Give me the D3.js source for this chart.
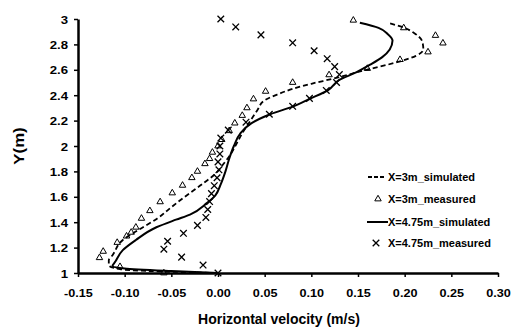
<!DOCTYPE html>
<html>
<head>
<meta charset="utf-8">
<script src="https://cdn.jsdelivr.net/npm/d3@7"></script>
<style>
	body { margin: 0; background: #fff; }
	svg { display: block; font-family: 'Liberation Sans', Arial, sans-serif; font-weight: bold; }
</style>
</head>
<body>
<svg id="chart" width="511" height="329"></svg>
<script>
const xTicks = [-0.15, -0.10, -0.05, 0.00, 0.05, 0.10, 0.15, 0.20, 0.25, 0.30];
const xTickLabels = ['-0.15', '-0.10', '-0.05', '0.00', '0.05', '0.10', '0.15', '0.20', '0.25', '0.30'];
const yTicks = [1, 1.2, 1.4, 1.6, 1.8, 2, 2.2, 2.4, 2.6, 2.8, 3];
const yTickLabels = ['1', '1.2', '1.4', '1.6', '1.8', '2', '2.2', '2.4', '2.6', '2.8', '3'];

const seriesNames = ['X=3m_simulated', 'X=3m_measured', 'X=4.75m_simulated', 'X=4.75m_measured'];

// [velocity, height]
const sim3 = [
	[0.000, 1.000], [-0.060, 1.012], [-0.105, 1.03], [-0.117, 1.06], [-0.117, 1.10], [-0.113, 1.14],
	[-0.102, 1.26], [-0.085, 1.34], [-0.065, 1.43], [-0.048, 1.53], [-0.030, 1.63], [-0.015, 1.71],
	[-0.003, 1.78], [0.006, 1.86], [0.014, 1.94], [0.020, 2.02], [0.026, 2.10], [0.033, 2.18],
	[0.042, 2.28], [0.050, 2.36], [0.065, 2.41], [0.080, 2.45], [0.100, 2.49], [0.123, 2.53],
	[0.159, 2.60], [0.192, 2.66], [0.212, 2.71], [0.220, 2.76], [0.219, 2.82], [0.210, 2.89],
	[0.200, 2.93], [0.182, 2.97]
];

const meas3 = [
	[-0.058, 1.00], [-0.105, 1.05], [-0.127, 1.12], [-0.123, 1.17], [-0.108, 1.24], [-0.098, 1.29],
	[-0.093, 1.32], [-0.088, 1.36], [-0.082, 1.43], [-0.073, 1.49], [-0.062, 1.56], [-0.049, 1.63],
	[-0.038, 1.69], [-0.028, 1.75], [-0.022, 1.80], [-0.014, 1.86], [-0.009, 1.90], [-0.006, 1.95],
	[0.000, 2.00], [0.004, 2.05], [0.012, 2.12], [0.018, 2.18], [0.026, 2.24], [0.031, 2.30],
	[0.038, 2.37], [0.051, 2.43], [0.080, 2.50], [0.119, 2.56], [0.160, 2.61], [0.195, 2.68],
	[0.225, 2.74], [0.241, 2.81], [0.233, 2.87], [0.199, 2.93], [0.145, 2.99]
];

const sim475 = [
	[0.000, 1.000], [-0.050, 1.015], [-0.100, 1.035], [-0.113, 1.055], [-0.110, 1.09], [-0.102, 1.18],
	[-0.088, 1.26], [-0.066, 1.36], [-0.045, 1.42], [-0.030, 1.46], [-0.012, 1.55], [-0.003, 1.61],
	[0.003, 1.70], [0.008, 1.80], [0.012, 1.90], [0.017, 2.00], [0.024, 2.10], [0.036, 2.18],
	[0.056, 2.25], [0.080, 2.31], [0.098, 2.37], [0.118, 2.44], [0.130, 2.52], [0.148, 2.58],
	[0.163, 2.64], [0.176, 2.70], [0.184, 2.76], [0.187, 2.83], [0.182, 2.88], [0.172, 2.93],
	[0.152, 2.97]
];

const meas475 = [
	[0.000, 1.000], [-0.016, 1.0625], [-0.039, 1.125], [-0.058, 1.1875], [-0.054, 1.25], [-0.037, 1.3125],
	[-0.022, 1.375], [-0.013, 1.4375], [-0.011, 1.5], [-0.009, 1.5625], [-0.007, 1.625], [-0.004, 1.6875],
	[-0.001, 1.75], [0.001, 1.8125], [0.000, 1.875], [0.002, 1.9375], [0.002, 2.0], [0.003, 2.0625],
	[0.011, 2.125], [0.030, 2.1875], [0.055, 2.25], [0.080, 2.3125], [0.098, 2.375], [0.116, 2.4375],
	[0.127, 2.5], [0.130, 2.5625], [0.125, 2.625], [0.117, 2.6875], [0.103, 2.75], [0.080, 2.8125],
	[0.046, 2.875], [0.019, 2.9375], [0.003, 3.0]
];

const svg = d3.select('#chart');

const x = d3.scaleLinear().domain([-0.15, 0.30]).range([78, 498]);
const y = d3.scaleLinear().domain([1, 3]).range([273, 19]);

// stretch text a bit wider, the picture is not 1:1
function stretch(sel, sx) {
	sel.attr('transform', function() {
		const tx = +this.getAttribute('data-x');
		const ty = +this.getAttribute('data-y');
		return `translate(${tx},${ty}) scale(${sx},1)`;
	});
}

const line = d3.line()
	.x(d => x(d[0]))
	.y(d => y(d[1]))
	.curve(d3.curveMonotoneY);

const $plot = svg.append('g');

$plot.append('path')
	.datum(sim3)
	.attr('d', line)
	.attr('fill', 'none')
	.attr('stroke', '#000')
	.attr('stroke-width', 1.8)
	.attr('stroke-dasharray', '5,3');

$plot.append('path')
	.datum(sim475)
	.attr('d', line)
	.attr('fill', 'none')
	.attr('stroke', '#000')
	.attr('stroke-width', 2);

const tri = d3.symbol().type(d3.symbolTriangle).size(18);

$plot.selectAll('path.tri')
	.data(meas3)
	.enter()
	.append('path')
	.attr('class', 'tri')
	.attr('d', tri)
	.attr('transform', d => `translate(${x(d[0])},${y(d[1])})`)
	.attr('fill', 'none')
	.attr('stroke', '#000')
	.attr('stroke-width', 1);

const cross = d3.symbol().type(d3.symbolX).size(30);

$plot.selectAll('path.cross')
	.data(meas475)
	.enter()
	.append('path')
	.attr('class', 'cross')
	.attr('d', cross)
	.attr('transform', d => `translate(${x(d[0])},${y(d[1])})`)
	.attr('fill', 'none')
	.attr('stroke', '#000')
	.attr('stroke-width', 1.3);

// axes
const xAxis = svg.append('g')
	.attr('transform', `translate(0,${y(1)})`)
	.call(d3.axisBottom(x).tickValues(xTicks).tickSize(4).tickSizeOuter(0).tickFormat((d, i) => xTickLabels[i]));

const yAxis = svg.append('g')
	.attr('transform', `translate(${x(-0.15)},0)`)
	.call(d3.axisLeft(y).tickValues(yTicks).tickSize(4).tickSizeOuter(0).tickFormat((d, i) => yTickLabels[i]));

[xAxis, yAxis].forEach($a => {
	$a.select('.domain').attr('stroke', '#000').attr('stroke-width', 2.5);
	$a.selectAll('.tick line').attr('stroke', '#000').attr('stroke-width', 1.5);
	$a.selectAll('.tick text')
		.attr('fill', '#000')
		.attr('font-family', "'Liberation Sans', Arial, sans-serif")
		.attr('font-weight', 'bold')
		.attr('font-size', 11);
});

xAxis.selectAll('.tick text')
	.attr('y', 0).attr('dy', 0)
	.attr('data-x', 0).attr('data-y', 24)
	.call(stretch, 1.15);

yAxis.selectAll('.tick text')
	.attr('x', 0).attr('dy', 0)
	.attr('data-x', -10).attr('data-y', 4)
	.call(stretch, 1.2);

svg.append('text')
	.attr('x', 279)
	.attr('y', 324)
	.attr('text-anchor', 'middle')
	.attr('font-size', 14)
	.text('Horizontal velocity (m/s)');

svg.append('text')
	.attr('transform', 'translate(24,146) rotate(-90) scale(1.2,1)')
	.attr('text-anchor', 'middle')
	.attr('font-size', 14)
	.text('Y(m)');

// legend
const legendY = [177, 199, 222, 243];
const $legend = svg.append('g');

$legend.append('line')
	.attr('x1', 368).attr('x2', 384)
	.attr('y1', legendY[0]).attr('y2', legendY[0])
	.attr('stroke', '#000').attr('stroke-width', 1.8).attr('stroke-dasharray', '4,2');

$legend.append('path')
	.attr('d', tri)
	.attr('transform', `translate(378,${legendY[1]})`)
	.attr('fill', 'none').attr('stroke', '#000').attr('stroke-width', 1);

$legend.append('line')
	.attr('x1', 367).attr('x2', 388)
	.attr('y1', legendY[2]).attr('y2', legendY[2])
	.attr('stroke', '#000').attr('stroke-width', 2);

$legend.append('path')
	.attr('d', cross)
	.attr('transform', `translate(376,${legendY[3]})`)
	.attr('fill', 'none').attr('stroke', '#000').attr('stroke-width', 1.3);

$legend.selectAll('text')
	.data(seriesNames)
	.enter()
	.append('text')
	.attr('data-x', 388)
	.attr('data-y', (d, i) => legendY[i] + 3.5)
	.attr('font-size', 10)
	.text(d => d)
	.call(stretch, 1.1);
</script>
</body>
</html>
